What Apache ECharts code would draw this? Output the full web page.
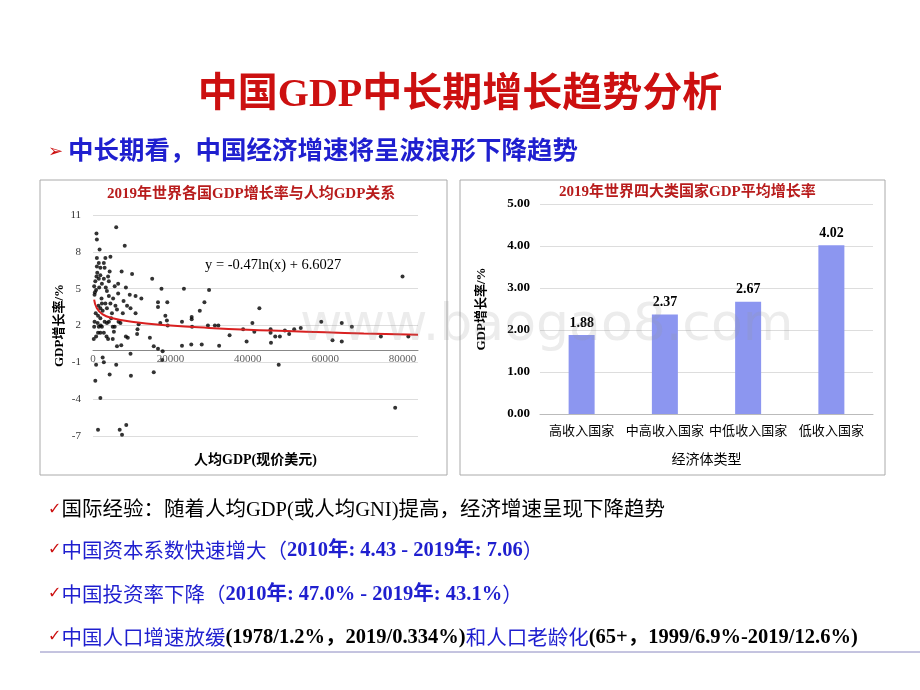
<!DOCTYPE html>
<html><head><meta charset="utf-8">
<script src="https://cdn.jsdelivr.net/npm/echarts@6/dist/echarts.min.js"></script>
<style>html,body{margin:0;padding:0;background:#fff}#container{width:920px;height:690px}</style>
</head><body><div id="container"></div>
<script>
// 散点：人均GDP(美元), GDP增长率(%)
var scatterPts = [
 [80000,6.0],[78100,-4.7],[48000,-1.2],[9800,-2.1],[4300,-2.0],[600,-2.5],[1900,-3.9],[1300,-6.5],
 [6900,-6.5],[7500,-6.9],[8600,-6.1],[15700,-1.8],[17900,-0.8],[9700,-0.3],[2500,-0.6],[2800,-1.0],
 [800,-1.2],[6000,-1.2],[23500,5.0],[30000,4.9],[28800,3.9],[27600,3.2],[43000,3.4],[17700,5.0],
 [15300,5.8],[19200,3.9],[16800,3.9],[16800,3.5],[23000,0.35],[25400,0.45],[28100,0.45],[32600,0.35],
 [15700,0.3],[16800,0.1],[18000,-0.1],[25500,2.7],[25500,2.5],[23000,2.3],[25600,1.9],[29700,2.0],
 [31500,2.0],[32400,2.0],[35300,1.2],[38800,1.7],[39700,0.7],[41200,2.2],[41700,1.5],[45900,1.7],
 [45900,1.4],[46000,0.6],[47100,1.1],[48300,1.1],[49600,1.6],[50700,1.3],[52000,1.7],[53700,1.8],
 [59000,2.3],[61900,0.8],[64300,2.2],[64300,0.7],[66900,1.9],[74400,1.1],[81500,1.1],[18700,2.8],
 [19100,2.4],[19300,2.0],[17400,2.2],[14700,1.0],[11800,2.1],[11500,1.7],[11400,1.3],[12500,4.2],
 [11000,4.4],[11000,3.0],[10100,6.2],[8200,8.5],[6000,10.0],[7400,6.4],[8500,5.1],[9500,4.5],
 [7900,4.0],[8800,3.6],[9700,3.4],[8500,1.1],[9000,1.0],[7300,0.4],[6200,0.3],[6500,4.6],
 [6500,5.4],[5800,3.6],[6200,3.3],[7700,3.0],[6600,2.3],[7100,2.2],[5600,1.9],[5400,1.5],
 [5100,0.9],[4500,7.6],[4300,6.4],[3900,6.0],[4100,5.6],[3600,4.8],[4100,4.4],[3200,3.8],
 [3600,3.4],[3000,2.3],[3600,2.2],[4100,2.3],[2800,1.4],[3500,1.1],[3900,0.9],[1900,1.4],
 [1500,1.9],[1300,1.4],[800,1.1],[200,0.9],[300,1.9],[400,2.3],[700,3.0],[400,4.5],
 [800,4.9],[600,5.6],[900,6.0],[1100,6.3],[1000,6.8],[1500,7.1],[1900,6.7],[1000,7.5],
 [900,9.5],[1000,9.0],[1700,8.2],[2800,7.1],[3000,6.7],[3200,7.5],[2800,5.8],[2300,5.4],
 [1600,5.1],[2200,4.2],[2300,3.8],[1900,3.4],[2500,3.2],[1300,2.8],[1900,2.6],[2300,1.9],
 [4500,3.8],[4900,3.0],[5100,1.9],[5600,5.2],[1900,6.1],[1500,5.8],[300,5.2],[500,4.7],
 [1200,2.2],[2000,2.0],[3300,5.1],[4700,2.6],[5200,4.2],[1400,3.6]
];
// 趋势线
var trendPts = [[300,4.1],[1000,3.4],[2500,2.9],[5000,2.6],[10000,2.3],[20000,2.0],[30000,1.8],
 [40000,1.65],[50000,1.55],[60000,1.45],[70000,1.35],[84000,1.25]];
var scatterYTicks = [-7, 11, 3];
var scatterXTicks = [0, 20000, 40000, 60000, 80000];

// 柱状图
var barCats = ['高收入国家','中高收入国家','中低收入国家','低收入国家'];
var barVals = [1.88, 2.37, 2.67, 4.02];

var serif = '"Liberation Serif","Noto Sans CJK SC",serif';
var cjk = '"Noto Sans CJK SC",sans-serif';
var blue = '#1f1fcf';
var fs = '20.5px ';

var chart = echarts.init(document.getElementById('container'));
var option = {
  animation: false,
  textStyle: {fontFamily: serif},
  grid: [
    {left: 93, top: 215, width: 325, height: 221},
    {left: 540, top: 204, width: 333, height: 210}
  ],
  xAxis: [
    {gridIndex: 0, type: 'value', min: 0, max: 84000, interval: 20000,
     axisLine: {onZero: true, lineStyle: {color: '#888'}}, axisTick: {show: false},
     splitLine: {show: false}, axisLabel: {show: false},
     name: '人均GDP(现价美元)', nameLocation: 'middle', nameGap: 17,
     nameTextStyle: {fontSize: 14, fontWeight: 'bold', color: '#000'}},
    {gridIndex: 1, type: 'category', data: barCats,
     axisLine: {lineStyle: {color: '#bbb'}}, axisTick: {show: false},
     axisLabel: {fontSize: 13, color: '#000', fontFamily: cjk, margin: 10, interval: 0},
     name: '经济体类型', nameLocation: 'middle', nameGap: 38,
     nameTextStyle: {fontSize: 14, color: '#000', fontFamily: cjk}}
  ],
  yAxis: [
    {gridIndex: 0, type: 'value', min: scatterYTicks[0], max: scatterYTicks[1], interval: scatterYTicks[2],
     axisLine: {show: false}, axisTick: {show: false},
     splitLine: {lineStyle: {color: '#ddd'}},
     axisLabel: {fontSize: 11, color: '#333', margin: 12},
     name: 'GDP增长率/%', nameLocation: 'middle', nameGap: 26, nameRotate: 90,
     nameTextStyle: {fontSize: 13, fontWeight: 'bold', color: '#000'}},
    {gridIndex: 1, type: 'value', min: 0, max: 5, interval: 1,
     axisLine: {show: false}, axisTick: {show: false},
     splitLine: {lineStyle: {color: '#ddd'}},
     axisLabel: {fontSize: 13, fontWeight: 'bold', color: '#000', margin: 10,
       formatter: function (v) { return v.toFixed(2); }},
     name: 'GDP增长率/%', nameLocation: 'middle', nameGap: 52, nameRotate: 90,
     nameTextStyle: {fontSize: 13, fontWeight: 'bold', color: '#000'}}
  ],
  series: [
    {type: 'scatter', xAxisIndex: 0, yAxisIndex: 0, data: scatterPts, symbolSize: 4,
     itemStyle: {color: '#000'}},
    {type: 'line', xAxisIndex: 0, yAxisIndex: 0, data: trendPts, smooth: true, showSymbol: false,
     lineStyle: {color: '#d92020', width: 2}, z: 3},
    // x 轴刻度标签放在 y=0 处
    {type: 'scatter', xAxisIndex: 0, yAxisIndex: 0, symbolSize: 0, silent: true,
     data: scatterXTicks.map(function (v) { return [v, 0]; }),
     label: {show: true, position: 'bottom', distance: 4, fontSize: 11, color: '#333',
       formatter: function (p) { return String(p.value[0]); }}},
    {type: 'bar', xAxisIndex: 1, yAxisIndex: 1, data: barVals, barWidth: 26,
     itemStyle: {color: '#8c96f0'},
     label: {show: true, position: 'top', fontSize: 14, fontWeight: 'bold', color: '#000',
       formatter: function (p) { return p.value.toFixed(2); }}}
  ],
  graphic: [
    {type: 'rect', shape: {x: 40, y: 180, width: 407, height: 295}, style: {fill: 'none', stroke: '#aaa', lineWidth: 1}, z: -1},
    {type: 'rect', shape: {x: 460, y: 180, width: 425, height: 295}, style: {fill: 'none', stroke: '#aaa', lineWidth: 1}, z: -1},
    {type: 'text', left: 'center', top: 76, style: {text: '中国GDP中长期增长趋势分析', fill: '#cc1010',
      font: 'bold 40px ' + serif}},
    {type: 'text', left: 48, top: 143, style: {text: '➢', fill: '#cc1010', font: '18px "DejaVu Sans"'}},
    {type: 'text', left: 68, top: 137, style: {text: '中长期看，中国经济增速将呈波浪形下降趋势', fill: blue,
      font: 'bold 25.5px ' + cjk}},
    {type: 'text', left: 107, top: 187, style: {text: '2019年世界各国GDP增长率与人均GDP关系', fill: '#b81c1c',
      font: 'bold 15px ' + serif}},
    {type: 'text', left: 559, top: 185, style: {text: '2019年世界四大类国家GDP平均增长率', fill: '#b81c1c',
      font: 'bold 15px ' + serif}},
    {type: 'text', left: 205, top: 258, style: {text: 'y = -0.47ln(x) + 6.6027', fill: '#000',
      font: '14.5px ' + serif}},
    {type: 'text', left: 300, top: 300, z: 10, style: {text: 'www.baogao8.com', fill: 'rgba(150,150,150,0.18)',
      font: '52px "DejaVu Sans"'}},
    {type: 'text', left: 48, top: 500, style: {rich: {c: {fill: '#cc1010', font: '16px "DejaVu Sans"'},
      t: {fill: '#000', font: fs + serif}}, text: '{c|✓}{t|国际经验：随着人均GDP(或人均GNI)提高，经济增速呈现下降趋势}'}},
    {type: 'text', left: 48, top: 540, style: {rich: {c: {fill: '#cc1010', font: '16px "DejaVu Sans"'},
      t: {fill: blue, font: fs + cjk}, b: {fill: blue, font: 'bold ' + fs + serif}},
      text: '{c|✓}{t|中国资本系数快速增大（}{b|2010年: 4.43 - 2019年: 7.06}{t|）}'}},
    {type: 'text', left: 48, top: 584, style: {rich: {c: {fill: '#cc1010', font: '16px "DejaVu Sans"'},
      t: {fill: blue, font: fs + cjk}, b: {fill: blue, font: 'bold ' + fs + serif}},
      text: '{c|✓}{t|中国投资率下降（}{b|2010年: 47.0% - 2019年: 43.1%}{t|）}'}},
    {type: 'text', left: 48, top: 627, style: {rich: {c: {fill: '#cc1010', font: '16px "DejaVu Sans"'},
      t: {fill: blue, font: fs + cjk}, k: {fill: '#000', font: 'bold ' + fs + serif}},
      text: '{c|✓}{t|中国人口增速放缓}{k|(1978/1.2%，2019/0.334%)}{t|和人口老龄化}{k|(65+，1999/6.9%-2019/12.6%)}'}},
    {type: 'line', shape: {x1: 40, y1: 652, x2: 920, y2: 652}, style: {stroke: '#8a88c0', lineWidth: 1}}
  ]
};
chart.setOption(option);
</script></body></html>
